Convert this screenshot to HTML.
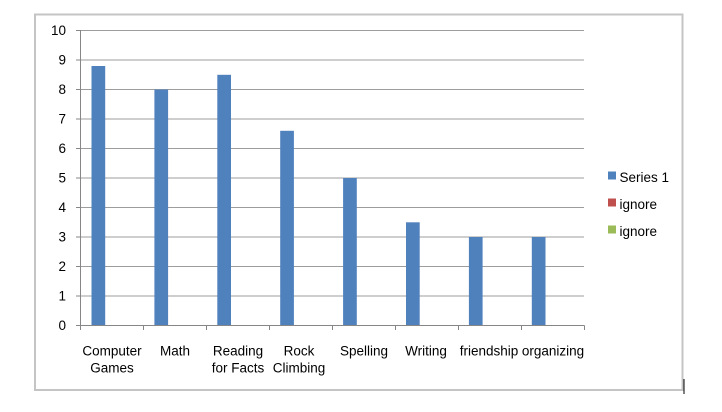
<!DOCTYPE html>
<html>
<head>
<meta charset="utf-8">
<style>
  html,body{margin:0;padding:0;background:#fff;}
  svg{display:block;}
  text{font-family:"Liberation Sans",sans-serif;font-size:13.5px;fill:#000;}
</style>
</head>
<body>
<svg width="722" height="412" viewBox="0 0 722 412" xmlns="http://www.w3.org/2000/svg">
  <rect x="0" y="0" width="722" height="412" fill="#fff"/>
  <rect x="35" y="14.5" width="647.5" height="375.5" fill="#fff" stroke="#c4c4c4" stroke-width="2"/>
  <g stroke="#9d9d9d" stroke-width="1">
    <line x1="80.5" y1="30.5" x2="584" y2="30.5"/>
    <line x1="80.5" y1="60" x2="584" y2="60"/>
    <line x1="80.5" y1="89.5" x2="584" y2="89.5"/>
    <line x1="80.5" y1="119" x2="584" y2="119"/>
    <line x1="80.5" y1="148.5" x2="584" y2="148.5"/>
    <line x1="80.5" y1="178" x2="584" y2="178"/>
    <line x1="80.5" y1="207.5" x2="584" y2="207.5"/>
    <line x1="80.5" y1="237" x2="584" y2="237"/>
    <line x1="80.5" y1="266.5" x2="584" y2="266.5"/>
    <line x1="80.5" y1="296" x2="584" y2="296"/>
  </g>
  <g fill="#4f81bd">
    <rect x="91.5" y="66" width="13.7" height="259.5"/>
    <rect x="154.4" y="89.5" width="13.7" height="236"/>
    <rect x="217.3" y="74.8" width="13.7" height="250.7"/>
    <rect x="280.2" y="130.8" width="13.7" height="194.7"/>
    <rect x="343.1" y="178" width="13.7" height="147.5"/>
    <rect x="406" y="222.3" width="13.7" height="103.2"/>
    <rect x="468.9" y="237" width="13.7" height="88.5"/>
    <rect x="531.8" y="237" width="13.7" height="88.5"/>
  </g>
  <g stroke="#868686" stroke-width="1">
    <line x1="80.5" y1="30" x2="80.5" y2="326"/>
    <line x1="80" y1="325.5" x2="584.5" y2="325.5"/>
    <line x1="76" y1="30.5" x2="80.5" y2="30.5"/>
    <line x1="76" y1="60" x2="80.5" y2="60"/>
    <line x1="76" y1="89.5" x2="80.5" y2="89.5"/>
    <line x1="76" y1="119" x2="80.5" y2="119"/>
    <line x1="76" y1="148.5" x2="80.5" y2="148.5"/>
    <line x1="76" y1="178" x2="80.5" y2="178"/>
    <line x1="76" y1="207.5" x2="80.5" y2="207.5"/>
    <line x1="76" y1="237" x2="80.5" y2="237"/>
    <line x1="76" y1="266.5" x2="80.5" y2="266.5"/>
    <line x1="76" y1="296" x2="80.5" y2="296"/>
    <line x1="76" y1="325.5" x2="80.5" y2="325.5"/>
    <line x1="80.5" y1="325.5" x2="80.5" y2="330"/>
    <line x1="143.5" y1="325.5" x2="143.5" y2="330"/>
    <line x1="206.5" y1="325.5" x2="206.5" y2="330"/>
    <line x1="269.5" y1="325.5" x2="269.5" y2="330"/>
    <line x1="332.5" y1="325.5" x2="332.5" y2="330"/>
    <line x1="395.5" y1="325.5" x2="395.5" y2="330"/>
    <line x1="458.5" y1="325.5" x2="458.5" y2="330"/>
    <line x1="521.5" y1="325.5" x2="521.5" y2="330"/>
    <line x1="584.5" y1="325.5" x2="584.5" y2="330"/>
  </g>
  <g text-anchor="end">
    <text x="66" y="35">10</text>
    <text x="66" y="64.5">9</text>
    <text x="66" y="94">8</text>
    <text x="66" y="123.5">7</text>
    <text x="66" y="153">6</text>
    <text x="66" y="182.5">5</text>
    <text x="66" y="212">4</text>
    <text x="66" y="241.5">3</text>
    <text x="66" y="271">2</text>
    <text x="66" y="300.5">1</text>
    <text x="66" y="330">0</text>
  </g>
  <g text-anchor="middle">
    <text x="112" y="355.5">Computer</text>
    <text x="112" y="372.5">Games</text>
    <text x="175" y="355.5">Math</text>
    <text x="238" y="355.5">Reading</text>
    <text x="238" y="372.5">for Facts</text>
    <text x="299" y="355.5">Rock</text>
    <text x="299" y="372.5">Climbing</text>
    <text x="364" y="355.5">Spelling</text>
    <text x="426" y="355.5">Writing</text>
    <text x="489" y="355.5">friendship</text>
    <text x="553" y="355.5">organizing</text>
  </g>
  <rect x="608" y="171.5" width="8" height="8" fill="#4f81bd"/>
  <text x="619.5" y="182">Series 1</text>
  <rect x="608" y="198.5" width="8" height="8" fill="#c0504d"/>
  <text x="619.5" y="209">ignore</text>
  <rect x="608" y="225.5" width="8" height="8" fill="#9bbb59"/>
  <text x="619.5" y="236">ignore</text>
  <line x1="684" y1="379" x2="684" y2="394" stroke="#000" stroke-width="1"/>
</svg>
</body>
</html>
